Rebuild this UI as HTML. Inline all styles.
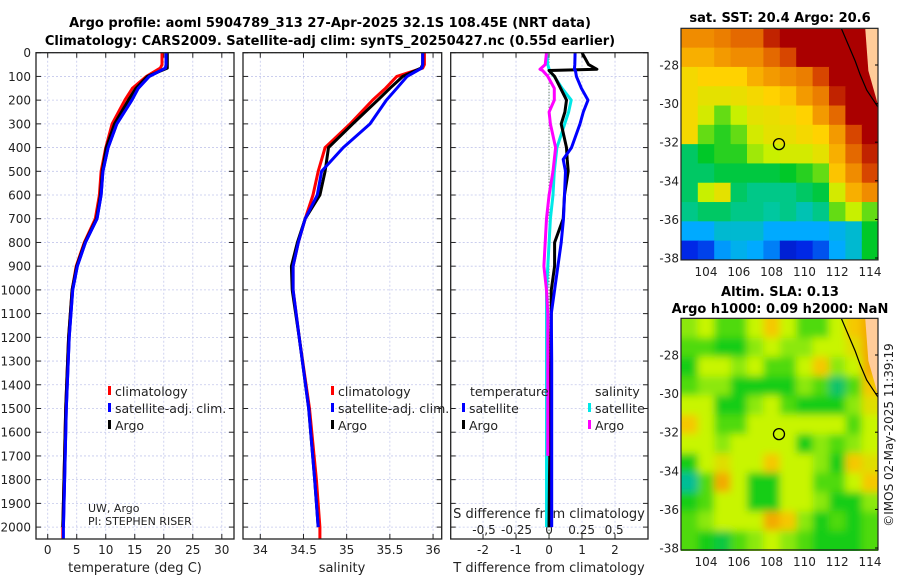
<!DOCTYPE html>
<html><head><meta charset="utf-8">
<style>
html,body{margin:0;padding:0;background:#fff;}
svg{display:block;font-family:"DejaVu Sans","Liberation Sans",sans-serif;}
</style></head>
<body>
<svg id="fig" width="900" height="580" viewBox="0 0 900 580" xmlns="http://www.w3.org/2000/svg">
<defs>
<clipPath id="clipTop"><rect x="681" y="29" width="197" height="231"/></clipPath>
<clipPath id="clipBot"><rect x="681" y="319" width="197" height="232"/></clipPath>
<filter id="soft"><feGaussianBlur stdDeviation="4"/></filter>
</defs>
<text x="330" y="27" text-anchor="middle" font-size="13" font-weight="bold">Argo profile: aoml 5904789_313 27-Apr-2025 32.1S 108.45E (NRT data)</text>
<text x="330" y="45" text-anchor="middle" font-size="13" font-weight="bold">Climatology: CARS2009. Satellite-adj clim: synTS_20250427.nc (0.55d earlier)</text>
<g id="layer"></g>
<text x="780" y="22" text-anchor="middle" font-size="13" font-weight="bold">sat. SST: 20.4 Argo: 20.6</text>
<text x="780" y="296" text-anchor="middle" font-size="13" font-weight="bold">Altim. SLA: 0.13</text>
<text x="780" y="313" text-anchor="middle" font-size="13" font-weight="bold">Argo h1000: 0.09 h2000: NaN</text>
<text transform="translate(893,435) rotate(-90)" text-anchor="middle" font-size="12" fill="#222">©IMOS 02-May-2025 11:39:19</text>
</svg>
<script>
// ---------- profile data ----------
const depthT = [0,50,65,100,150,200,300,400,500,600,700,800,900,1000,1200,1500,1800,2000,2050];
const climT  = [19.7,19.7,19.4,17.0,14.6,13.3,11.1,10.0,9.2,8.9,8.2,6.3,4.9,4.2,3.6,3.1,2.8,2.6,2.6];
const satT   = [20.4,20.4,20.3,17.5,15.6,14.5,11.9,10.4,9.5,9.2,8.5,6.5,5.1,4.3,3.7,3.2,2.9,2.7,2.7];
const argoT  = [20.6,20.6,20.6,17.2,15.2,13.9,11.5,10.1,9.4,9.1,8.4,6.4,5.0,4.2,3.6,3.1,2.8,2.6,2.6];
const depthS = [0,50,65,100,150,200,300,400,500,600,700,800,900,1000,1200,1500,1800,2000,2050];
const climS  = [35.9,35.9,35.88,35.58,35.45,35.3,35.04,34.75,34.67,34.61,34.52,34.44,34.38,34.38,34.45,34.57,34.65,34.69,34.69];
const satS   = [35.88,35.88,35.87,35.7,35.58,35.46,35.27,34.96,34.71,34.66,34.52,34.44,34.38,34.38,34.45,34.56,34.63,34.67,34.67];
const argoS  = [35.88,35.88,35.86,35.65,35.5,35.36,35.07,34.79,34.75,34.69,34.52,34.43,34.36,34.37,34.45,34.56,34.63,34.67,34.67];
const depthD = [0,50,70,75,100,150,200,250,300,400,450,500,600,700,800,900,1000,1100,1300,1500,1700,2000];
const dTsat  = [0.79,0.78,0.77,0.8,0.83,0.98,1.18,1.04,0.94,0.68,0.43,0.5,0.47,0.44,0.37,0.27,0.17,0.07,0.08,0.08,0.08,0.08];
const dTargo = [1.0,1.2,1.45,0.0,0.17,0.35,0.53,0.48,0.37,0.53,0.55,0.58,0.47,0.43,0.17,0.17,0.07,0.07,0.05,0.02,0.02,0.0];
const dSsat  = [-0.02,-0.01,0.0,0.0,0.04,0.1,0.17,0.15,0.12,0.06,0.05,0.04,0.03,0.01,0.0,-0.01,-0.02,-0.02,-0.02,-0.02,-0.02,-0.02];
const dSargo = [-0.02,-0.03,-0.07,-0.05,-0.01,0.04,0.04,0.0,0.01,0.05,0.04,0.03,0.0,-0.02,-0.03,-0.04,-0.02,-0.01,-0.01,-0.01,-0.01];
const depthTicks = [0,100,200,300,400,500,600,700,800,900,1000,1100,1200,1300,1400,1500,1600,1700,1800,1900,2000];
const tempTicks = [0,5,10,15,20,25,30];
const salTicks = [34,34.5,35,35.5,36];
const dTTicks = [-2,-1,0,1,2];
const dSTicks = [-0.5,-0.25,0,0.25,0.5];
const dSTickLabels = ["-0,5","-0.25","0","0.25","0.5"];
// ---------- map data (12 x 12, lon 102.5..114.5, lat -26.1..-38.1) ----------
const sstGrid = [
[0.8,0.8,0.82,0.85,0.85,0.95,1,1,1,1,1,1],
[0.75,0.75,0.78,0.8,0.8,0.85,0.9,1,1,1,1,1],
[0.68,0.7,0.7,0.7,0.75,0.78,0.8,0.82,0.9,1,1,1],
[0.68,0.65,0.65,0.66,0.68,0.7,0.72,0.78,0.82,0.95,1,1],
[0.68,0.62,0.55,0.6,0.65,0.66,0.68,0.7,0.78,0.85,1,1],
[0.68,0.55,0.52,0.55,0.62,0.65,0.66,0.68,0.7,0.78,0.9,1],
[0.45,0.5,0.52,0.52,0.58,0.6,0.62,0.62,0.65,0.75,0.85,0.95],
[0.45,0.45,0.48,0.48,0.48,0.48,0.5,0.52,0.55,0.72,0.8,0.9],
[0.45,0.6,0.65,0.45,0.42,0.42,0.42,0.45,0.48,0.62,0.75,0.8],
[0.42,0.45,0.45,0.42,0.42,0.4,0.42,0.38,0.42,0.55,0.6,0.55],
[0.3,0.3,0.35,0.35,0.35,0.3,0.3,0.3,0.3,0.32,0.35,0.5],
[0.15,0.18,0.28,0.32,0.3,0.25,0.12,0.15,0.2,0.3,0.35,0.5]];
const slaGrid = [
[.55,.6,.5,.5,.6,.7,.6,.5,.5,.6,.7,.75],
[.5,.5,.45,.45,.55,.6,.55,.55,.6,.6,.65,.75],
[.45,.6,.6,.55,.6,.5,.5,.6,.7,.55,.6,.75],
[.5,.55,.55,.45,.45,.45,.45,.55,.5,.35,.5,.7],
[.6,.6,.45,.45,.55,.6,.5,.45,.45,.45,.55,.65],
[.7,.6,.5,.5,.6,.6,.6,.6,.6,.6,.5,.6],
[.6,.6,.55,.6,.6,.6,.6,.45,.55,.5,.55,.6],
[.45,.6,.65,.6,.6,.7,.6,.6,.55,.45,.7,.65],
[.3,.5,.75,.6,.45,.45,.6,.6,.5,.5,.6,.7],
[.45,.5,.6,.6,.45,.45,.6,.6,.55,.45,.45,.55],
[.5,.55,.6,.6,.6,.75,.7,.55,.45,.5,.45,.5],
[.5,.45,.4,.5,.55,.6,.55,.5,.45,.45,.45,.5]];
const lonTicks = [104,106,108,110,112,114];
const latTicks = [-28,-30,-32,-34,-36,-38];
const argoLon = 108.45, argoLat = -32.1;

const NS="http://www.w3.org/2000/svg";
const L=document.getElementById('layer');
function mk(tag,attrs,parent){const e=document.createElementNS(NS,tag);for(const k in attrs)e.setAttribute(k,attrs[k]);(parent||L).appendChild(e);return e;}
function txt(x,y,s,size,anchor,parent){const e=mk('text',{x:x,y:y,'font-size':size||12,'text-anchor':anchor||'middle',fill:'#222'},parent);e.textContent=s;return e;}

const Y0=52.7,Y1=539,DMAX=(539-52.7)/0.2372;
const yD=d=>Y0+d*0.2372;
const panels=[
 {x0:36,x1:234,min:-2.02,max:32.1},
 {x0:243,x1:441.7,min:33.80,max:36.10},
 {x0:450.7,x1:648,min:-2.98,max:3.0}];
function sx(p,v){return p.x0+(v-p.min)/(p.max-p.min)*(p.x1-p.x0);}
const pS={x0:450.7,x1:648,min:-0.756,max:0.76};

function grid(p,ticks,g){
  ticks.forEach(t=>{const x=sx(p,t);mk('line',{x1:x,x2:x,y1:Y0,y2:Y1,stroke:'#c4c8ec','stroke-width':0.8,'stroke-dasharray':'2,2'},g);});
  depthTicks.forEach(d=>{const y=yD(d);mk('line',{x1:p.x0,x2:p.x1,y1:y,y2:y,stroke:'#c4c8ec','stroke-width':0.8,'stroke-dasharray':'2,2'},g);
    mk('line',{x1:p.x0,x2:p.x0+5,y1:y,y2:y,stroke:'#222','stroke-width':1},g);
    mk('line',{x1:p.x1-5,x2:p.x1,y1:y,y2:y,stroke:'#222','stroke-width':1},g);});
  ticks.forEach(t=>{const x=sx(p,t);mk('line',{x1:x,x2:x,y1:Y1,y2:Y1-5,stroke:'#222'},g);mk('line',{x1:x,x2:x,y1:Y0,y2:Y0+5,stroke:'#222'},g);});
}
function line(p,vals,deps,color,w,name,scale){
  const pts=vals.map((v,i)=>(scale?sx(scale,v):sx(p,v)).toFixed(1)+','+yD(deps[i]).toFixed(1)).join(' ');
  const e=mk('polyline',{points:pts,fill:'none',stroke:color,'stroke-width':w,'stroke-linejoin':'round'});
  
  
}
panels.forEach((p,i)=>{
  const g=mk('g',{});
  
  
  grid(p,[tempTicks,salTicks,dTTicks][i],g);
});
// depth labels
depthTicks.forEach(d=>{const t=txt(31,yD(d)+4.5,String(d),12,'end');
  
  });
// x tick labels
tempTicks.forEach(v=>{const t=txt(sx(panels[0],v),554,String(v),12);});
salTicks.forEach(v=>{const t=txt(sx(panels[1],v),554,String(v),12);});
dTTicks.forEach(v=>{const t=txt(sx(panels[2],v),554,String(v),12);});
dSTicks.forEach((v,i)=>{const t=txt(sx(pS,v),534,dSTickLabels[i],12);});
let t;
t=txt(135,572,'temperature (deg C)',13);
t=txt(342,572,'salinity',13);
t=txt(549,572,'T difference from climatology',13);
t=txt(549,518,'S difference from climatology',13);
t=txt(88,512,'UW, Argo',11,'start');
t=txt(88,525,'PI: STEPHEN RISER',11,'start');
// zero dotted line
const x0=sx(panels[2],0);
mk('line',{x1:x0,x2:x0,y1:Y0,y2:Y1,stroke:'#406040','stroke-width':1,'stroke-dasharray':'1,2'});
// series
line(panels[0],climT,depthT,'#ff0000',3,'temp-climatology-line');
line(panels[0],satT,depthT,'#0000ff',3,'temp-satellite-line');
line(panels[0],argoT.slice(0,18),depthT.slice(0,18),'#000',3,'temp-argo-line');
line(panels[0],satT.slice(0,18),depthT.slice(0,18),'#0000ff',3,'temp-satellite-line-top');
line(panels[1],climS,depthS,'#ff0000',3,'sal-climatology-line');
line(panels[1],argoS.slice(0,18),depthS.slice(0,18),'#000',3,'sal-argo-line');
line(panels[1],satS.slice(0,18),depthS.slice(0,18),'#0000ff',3,'sal-satellite-line');
line(panels[2],dSsat,depthD,'#00e8e8',3,'sdiff-satellite-line',pS);
line(panels[2],dTargo,depthD,'#000',3,'tdiff-argo-line');
line(panels[2],dTsat,depthD,'#0000ff',3,'tdiff-satellite-line');
line(panels[2],dSargo,depthD.slice(0,dSargo.length),'#ff00ff',3,'sdiff-argo-line',pS);
// panel frames
panels.forEach(p=>{const r=mk('rect',{x:p.x0,y:Y0,width:p.x1-p.x0,height:Y1-Y0,fill:'none',stroke:'#222','stroke-width':1.3});
  });
// legends
function leg(x,y,color,label,name){
  const g=mk('g',{});
  
  
  mk('rect',{x:x,y:y-10,width:3,height:9,fill:color},g);
  txt(x+7,y,label,12.5,'start',g);
}
leg(108,396,'#ff0000','climatology','legend-climatology');
leg(108,413,'#0000ff','satellite-adj. clim.','legend-satellite-adj');
leg(108,430,'#000','Argo','legend-argo');
leg(331,396,'#ff0000','climatology','legend2-climatology');
leg(331,413,'#0000ff','satellite-adj. clim.','legend2-satellite-adj');
leg(331,430,'#000','Argo','legend2-argo');
t=txt(470,396,'temperature',12.5,'start');
t=txt(595,396,'salinity',12.5,'start');
leg(462,413,'#0000ff','satellite','legend-tdiff-satellite');
leg(462,430,'#000','Argo','legend-tdiff-argo');
leg(588,413,'#00e8e8','satellite','legend-sdiff-satellite');
leg(588,430,'#ff00ff','Argo','legend-sdiff-argo');

// ---------- maps ----------
function jet(v){
  const st=[[0,[0,0,140]],[0.15,[0,40,230]],[0.3,[0,170,255]],[0.4,[0,200,160]],[0.5,[0,200,40]],[0.6,[200,240,0]],[0.7,[255,210,0]],[0.8,[240,140,0]],[0.9,[215,70,0]],[1,[170,0,0]]];
  for(let i=1;i<st.length;i++){if(v<=st[i][0]){const a=st[i-1],b=st[i],f=(v-a[0])/(b[0]-a[0]);
    return 'rgb('+a[1].map((c,k)=>Math.round(c+(b[1][k]-c)*f)).join(',')+')';}}
  return 'rgb(170,0,0)';
}
function slaCol(v){
  const st=[[0.3,[0,190,150]],[0.45,[20,205,20]],[0.6,[200,245,0]],[0.7,[245,200,0]],[0.8,[240,140,0]]];
  if(v<=0.3)return 'rgb(0,190,150)';
  for(let i=1;i<st.length;i++){if(v<=st[i][0]){const a=st[i-1],b=st[i],f=(v-a[0])/(b[0]-a[0]);
    return 'rgb('+a[1].map((c,k)=>Math.round(c+(b[1][k]-c)*f)).join(',')+')';}}
  return 'rgb(240,140,0)';
}
const mx=lon=>706+(lon-104)*16.4;
function drawMap(gridVals,colFn,yTop,clip,name,blur){
  const yl=lat=>yTop+(-28-lat)*19.3;
  const g=mk('g',{'clip-path':'url(#'+clip+')'});
  
  
  const inner=mk('g',blur?{filter:'url(#soft)'}:{},g);
  mk('rect',{x:660,y:yl(-25),width:240,height:yl(-39)-yl(-25),fill:colFn(0.5)},inner);
  gridVals.forEach((row,r)=>row.forEach((v,c)=>{
    const lon=102.5+c,lat=-26.1-r;
    const x=mx(lon),y=yl(lat);
    const cell=mk('rect',{x:x-(c==0?12:0),y:y-(r==0?12:0),width:16.4+1+(c==0||c==11?12:0),height:19.3+1+(r==0||r==11?12:0),fill:colFn(v)},inner);
    
    
  }));
  // land and coast
  mk('polygon',{points:[[113.7,-26],[115,-26],[115,-30.1],[114.5,-30.1],[113.9,-28.3]].map(p=>mx(p[0])+','+yl(p[1])).join(' '),fill:'#ffcc99'},g);
  mk('polyline',{points:[[112.2,-26],[112.6,-26.8],[113.1,-27.8],[113.4,-28.5],[113.8,-29.3],[114.5,-30.2]].map(p=>mx(p[0])+','+yl(p[1])).join(' '),fill:'none',stroke:'#000','stroke-width':1.2},g);
  const m=mk('circle',{cx:mx(argoLon),cy:yl(argoLat),r:5.5,fill:'none',stroke:'#000','stroke-width':1.3});
  
  
  const fr=mk('rect',{x:681,y:yl(-26.1),width:197,height:yl(-38.1)-yl(-26.1),fill:'none',stroke:'#222','stroke-width':1.2});
  
  
  latTicks.forEach(l=>{const y=yl(l);mk('line',{x1:875,x2:878,y1:y,y2:y,stroke:'#000'});
    const tl=txt(679,y+4.5,String(l),12,'end');});
  lonTicks.forEach(l=>{const x=mx(l);const tl=txt(x,yl(-38.1)+16,String(l),12);});
}
drawMap(sstGrid,jet,65,'clipTop','sst-map',false);
drawMap(slaGrid,slaCol,355,'clipBot','sla-map',true);
</script>
</body></html>
